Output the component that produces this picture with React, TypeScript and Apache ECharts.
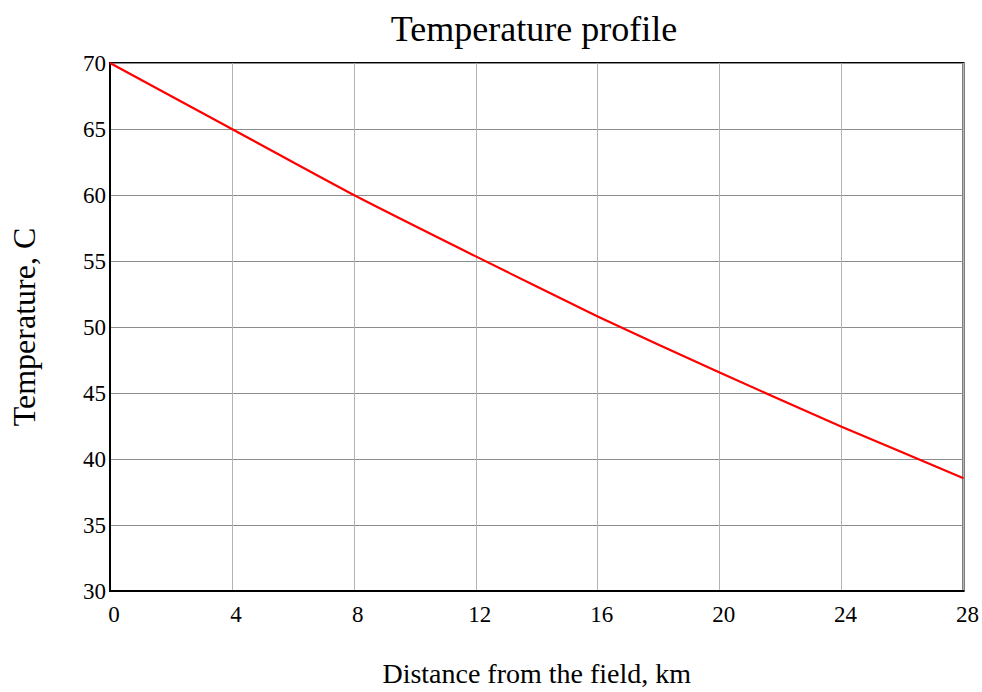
import React, { useEffect, useRef } from "react";
import * as echarts from "echarts";

const distances = [0, 4, 8, 12, 16, 20, 24, 28];
const temperatures = [70, 65.0, 60.0, 55.35, 50.8, 46.55, 42.45, 38.55];

const FONT = "Liberation Serif";

export default function App() {
  const ref = useRef<HTMLDivElement>(null);
  useEffect(() => {
    const chart = echarts.init(ref.current!, null, { renderer: "svg" });
    chart.setOption({
      animation: false,
      backgroundColor: "#ffffff",
      title: {
        text: "Temperature profile",
        left: 534,
        textAlign: "center",
        top: 11,
        padding: 0,
        textStyle: { fontFamily: FONT, fontSize: 36, fontWeight: "normal", color: "#000" },
      },
      grid: {
        left: 107,
        right: 18,
        top: 63,
        bottom: 101,
        show: true,
        borderColor: "#000",
        borderWidth: 2,
        backgroundColor: "transparent",
      },
      xAxis: {
        type: "value",
        min: 0,
        max: 28,
        interval: 4,
        name: "Distance from the field, km",
        nameLocation: "middle",
        nameGap: 68,
        nameTextStyle: { fontFamily: FONT, fontSize: 28, color: "#000" },
        axisLine: { show: true, lineStyle: { color: "#000", width: 2 } },
        axisTick: { show: false },
        axisLabel: { fontFamily: FONT, fontSize: 23, color: "#000", margin: 12, padding: [0, 0, 0, 8] },
        splitLine: { show: true, lineStyle: { color: "#b4b4b4", width: 1 } },
      },
      yAxis: {
        type: "value",
        min: 30,
        max: 70,
        interval: 5,
        name: "Temperature, C",
        nameLocation: "middle",
        nameGap: 70,
        nameTextStyle: { fontFamily: FONT, fontSize: 32, color: "#000" },
        axisLine: { show: true, lineStyle: { color: "#000", width: 2 } },
        axisTick: { show: false },
        axisLabel: { fontFamily: FONT, fontSize: 23, color: "#000", margin: 4, padding: [10, 0, 0, 0] },
        splitLine: { show: true, lineStyle: { color: "#8c8c8c", width: 1 } },
      },
      series: [
        {
          type: "line",
          data: distances.map((d, i) => [d, temperatures[i]]),
          showSymbol: false,
          smooth: 0.2,
          lineStyle: { color: "#ff0000", width: 2.2 },
          clip: false,
        },
      ],
    });
    return () => chart.dispose();
  }, []);
  return <div ref={ref} style={{ width: 982, height: 692, position: "absolute", left: 0, top: 0 }} />;
}
